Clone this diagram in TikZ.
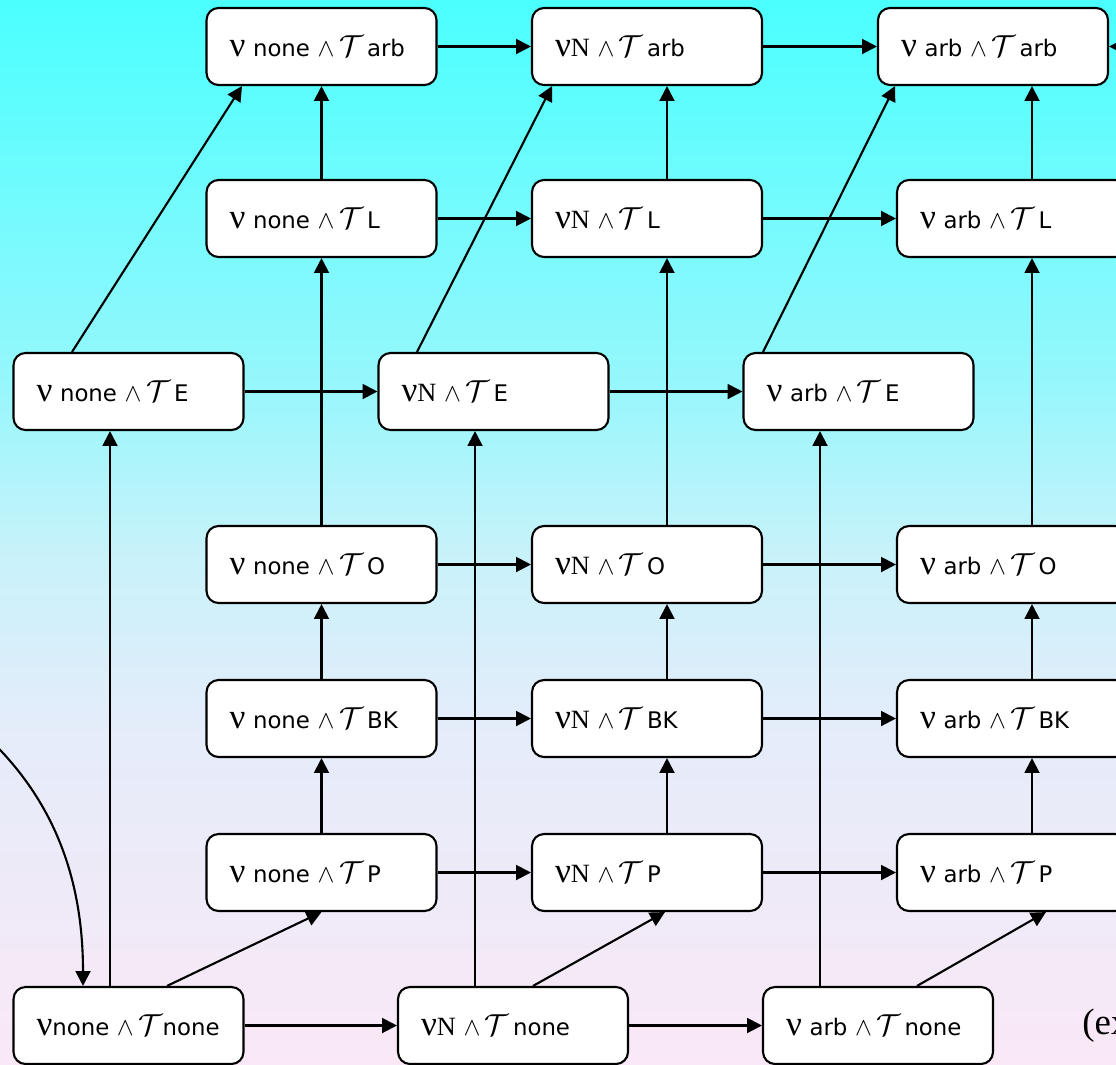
\documentclass[tikz,border=0pt]{standalone}
\usepackage{fontspec}
\setmainfont{Liberation Serif}
\setsansfont{DejaVu Sans}
\usepackage{tikz}
\usetikzlibrary{arrows.meta, calc}

\definecolor{bgtop}{RGB}{75,255,255}
\definecolor{bgmid}{RGB}{150,247,252}
\definecolor{bgpale}{RGB}{200,242,250}
\definecolor{bglav}{RGB}{228,236,250}
\definecolor{bgpink}{RGB}{250,232,246}
\pgfdeclareverticalshading{bgfade}{100bp}{color(0bp)=(bgpink); color(25bp)=(bgpink); color(41bp)=(bglav); color(49bp)=(bgpale); color(57bp)=(bgmid); color(75bp)=(bgtop); color(100bp)=(bgtop)}

\tikzset{
  state/.style={rectangle, rounded corners=0.24cm, draw=black, line width=1.2pt, fill=white, minimum width=4.6cm, minimum height=1.54cm, inner xsep=0.46cm, text width=3.68cm, align=left, font=\sffamily\fontsize{13}{15}\selectfont},
  arrow/.style={line width=1.2pt, -{Triangle[length=8.5pt,width=8.5pt]}}
}
\newcommand{\vnu}{{\rmfamily\fontsize{20}{20}\selectfont ν}}
\newcommand{\vN}{{\rmfamily\fontsize{15}{15}\selectfont N}}
\newcommand{\andT}{{\fontsize{15}{15}\selectfont$\wedge$}\hspace{0.2em}{\fontsize{19}{19}\selectfont$\mathcal{T}$}}

\begin{document}
\begin{tikzpicture}[x=0.02cm, y=-0.02cm]

    % 1. Fondo
    \useasboundingbox (0,0) rectangle (1116,1065);
    \clip (0,0) rectangle (1116,1065);
    \shade[shading=bgfade] (0,0) rectangle (1116,1065);

    % 2. Rejilla de estados (tres columnas)
    \node[state] (none-arb) at (321.5,46.5) {\vnu\ none \andT\,arb};
    \node[state] (N-arb) at (647,46.5) {\vnu\vN\ \andT\,arb};
    \node[state] (arb-arb) at (993,46.5) {\vnu\ arb \andT\,arb};
    \foreach \r/\y in {L/218.5, O/564.5, BK/718.5, P/872.5} {
        \node[state] (none-\r) at (321.5,\y) {\vnu\ none \andT\,\r};
        \node[state] (N-\r) at (647,\y) {\vnu\vN\ \andT\,\r};
        \node[state] (arb-\r) at (1012,\y) {\vnu\ arb \andT\,\r};
    }

    % Fila E y fila inferior (desplazadas)
    \node[state] (none-E) at (128.5,391.5) {\vnu\ none \andT\,E};
    \node[state] (N-E) at (493.5,391.5) {\vnu\vN\ \andT\,E};
    \node[state] (arb-E) at (858.5,391.5) {\vnu\ arb \andT\,E};
    \node[state] (none-none) at (128.5,1025.5) {\vnu none \andT none};
    \node[state] (N-none) at (513,1025.5) {\vnu\vN\ \andT\,none};
    \node[state] (arb-none) at (878,1025.5) {\vnu\ arb \andT\,none};

    \node[anchor=west, inner sep=0pt, font=\fontsize{21}{21}\selectfont] (ex) at (1082,1025.5) {(ex};

    % 3. Flechas horizontales
    \foreach \r in {arb, L, O, BK, P} {
        \draw[arrow] (none-\r.east) -- (N-\r.west);
        \draw[arrow] (N-\r.east) -- (arb-\r.west);
    }
    \draw[arrow] (none-E.east) -- (N-E.west);
    \draw[arrow] (N-E.east) -- (arb-E.west);
    \draw[arrow] (none-none.east) -- (N-none.west);
    \draw[arrow] (N-none.east) -- (arb-none.west);
    \coordinate (rightin) at (1140,46.5);
    \draw[arrow] (rightin) -- (arb-arb.east);

    % 4. Flechas verticales
    \foreach \a/\b in {P/BK, BK/O, O/L, L/arb} {
        \draw[arrow] (none-\a.north) -- (none-\b.south);
        \draw[arrow] ([xshift=0.4cm]N-\a.north) -- ([xshift=0.4cm]N-\a.north |- N-\b.south);
        \draw[arrow] ([xshift=0.4cm]arb-\a.north) -- ([xshift=0.4cm]arb-\a.north |- arb-\b.south);
    }
    \draw[arrow] ([xshift=-0.37cm]none-E.south |- none-none.north) -- ([xshift=-0.37cm]none-E.south);
    \draw[arrow] ([xshift=-0.37cm]N-E.south |- N-none.north) -- ([xshift=-0.37cm]N-E.south);
    \draw[arrow] ([xshift=-0.77cm]arb-E.south |- arb-none.north) -- ([xshift=-0.77cm]arb-E.south);

    % 5. Flechas diagonales
    \draw[arrow] ([xshift=0.77cm]none-none.north) -- (none-P.south);
    \draw[arrow] ([xshift=0.4cm]N-none.north) -- ([xshift=0.36cm]N-P.south);
    \draw[arrow] ([xshift=0.78cm]arb-none.north) -- ([xshift=0.68cm]arb-P.south);
    \draw[arrow] ([xshift=-1.13cm]none-E.north) -- ([xshift=-1.59cm]none-arb.south);
    \draw[arrow] ([xshift=-1.53cm]N-E.north) -- ([xshift=-1.9cm]N-arb.south);
    \draw[arrow] ([xshift=-1.91cm]arb-E.north) -- ([xshift=-1.96cm]arb-arb.south);

    % 6. Flecha curva de entrada
    \coordinate (loopin) at (-15,735);
    \draw[arrow] (loopin) .. controls (55,800) and (83,880) .. ([xshift=-0.91cm]none-none.north);

\end{tikzpicture}
\end{document}
